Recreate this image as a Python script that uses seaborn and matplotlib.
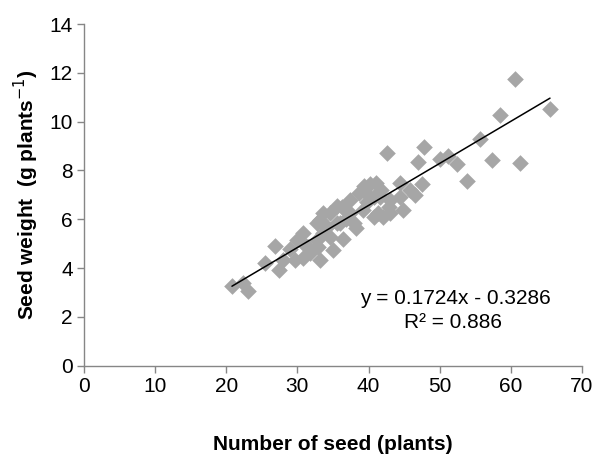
import numpy as np
import pandas as pd
import seaborn as sns
import matplotlib.pyplot as plt

# ===================== data =====================
seed_number = [20.8, 22.3, 23.1, 25.4, 26.8, 27.4, 28.0, 29.0, 29.7, 29.9,
               30.8, 30.8, 31.5, 31.8, 32.7, 32.7, 32.9, 33.2, 33.2, 33.6,
               33.6, 34.6, 34.6, 35.0, 35.5, 35.5, 36.0, 36.2, 36.4, 37.4,
               37.4, 37.9, 38.3, 38.6, 39.3, 39.2, 39.8, 40.2, 40.7, 40.7,
               41.3, 41.1, 41.6, 42.0, 42.6, 42.9, 43.0, 43.0, 44.4, 44.4,
               44.9, 45.8, 46.5, 47.0, 47.5, 47.8, 50.0, 51.2, 52.4, 53.8,
               55.6, 57.4, 58.5, 60.6, 61.3, 65.5,
               34.2, 36.8, 39.5, 41.8, 31.2]
seed_weight = [3.27, 3.40, 3.08, 4.22, 4.92, 3.92, 4.33, 4.78, 4.33, 5.15,
               4.40, 5.42, 4.88, 4.60, 5.15, 5.83, 4.88, 4.33, 5.97, 5.42,
               6.24, 5.28, 6.24, 4.74, 5.83, 6.55, 5.83, 6.51, 5.20, 6.24,
               6.79, 5.83, 5.63, 7.06, 7.35, 6.40, 6.70, 7.45, 6.10, 6.92,
               6.24, 7.47, 6.92, 6.10, 8.70, 6.51, 6.79, 6.24, 6.92, 7.47,
               6.38, 7.20, 6.99, 8.33, 7.45, 8.97, 8.46, 8.60, 8.27, 7.55,
               9.31, 8.43, 10.27, 11.73, 8.32, 10.50,
               5.70, 6.00, 7.10, 7.20, 4.90]

slope = 0.1724
intercept = -0.3286
r_squared = 0.886

df = pd.DataFrame({'seeds': seed_number, 'weight': seed_weight})

# ===================== plot =====================
sns.set_style("white")
plt.rcParams['font.family'] = ['Liberation Sans', 'DejaVu Sans']
plt.rcParams['text.color'] = 'black'

fig = plt.figure(figsize=(6.02, 4.54), dpi=100)
ax = fig.add_axes([0.1395, 0.1945, 0.8273, 0.7525])

sns.scatterplot(data=df, x='seeds', y='weight', marker='D', s=72,
                color='#a6a6a6', linewidth=0, ax=ax, zorder=2)

# trend line over the data range
line_x = np.array([df['seeds'].min(), df['seeds'].max()])
sns.lineplot(x=line_x, y=slope * line_x + intercept, color='black',
             linewidth=1.1, ax=ax, zorder=3)

ax.text(52.2, 2.77, f"y = {slope}x - {abs(intercept)}", ha='center', va='center',
        fontsize=15)
ax.text(51.9, 1.79, f"R² = {r_squared}", ha='center', va='center', fontsize=15)

ax.set_xlim(0, 70)
ax.set_ylim(0, 14)
ax.set_xticks(range(0, 71, 10))
ax.set_yticks(range(0, 15, 2))

for side in ['top', 'right']:
    ax.spines[side].set_visible(False)
for side in ['left', 'bottom']:
    ax.spines[side].set_color('#868686')
    ax.spines[side].set_linewidth(1)

ax.tick_params(axis='both', direction='out', length=5, width=1, color='#868686',
               labelsize=15, labelcolor='black', pad=3, left=True, bottom=True)

ax.set_xlabel("Number of seed (plants)", fontsize=15, fontweight='bold',
              labelpad=28, color='black')
ax.set_ylabel(r"Seed weight  (g plants$^{-1}$)", fontsize=15,
              fontweight='bold', labelpad=6, color='black')

plt.savefig("out.png", dpi=100)
plt.close()
